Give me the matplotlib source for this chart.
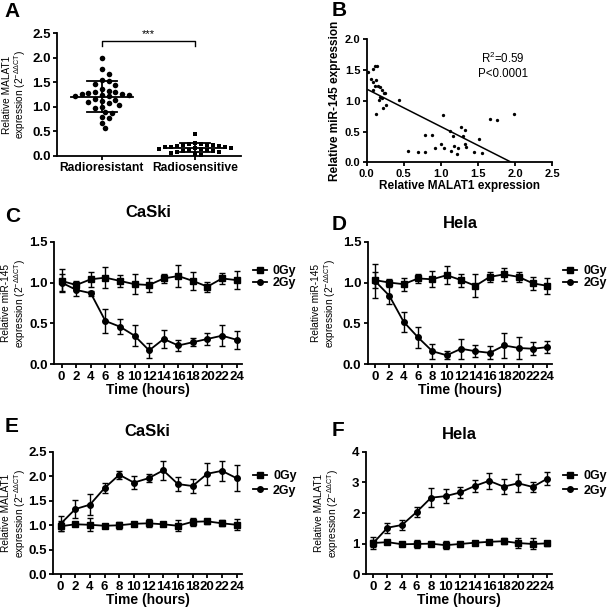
import numpy as np
import matplotlib
matplotlib.use('Agg')
import matplotlib.pyplot as plt

plt.rcParams['font.family'] = ['Liberation Sans', 'DejaVu Sans']
plt.rcParams['mathtext.fontset'] = 'custom'
plt.rcParams['mathtext.rm'] = 'Liberation Sans'
plt.rcParams['mathtext.it'] = 'Liberation Sans:italic'
plt.rcParams['mathtext.bf'] = 'Liberation Sans:bold'

# ---- panel A: MALAT1 in radioresistant / radiosensitive samples
groups = ['Radioresistant', 'Radiosensitive']
resistant = [2.00, 1.76, 1.67, 1.55, 1.52, 1.46, 1.45, 1.36, 1.33, 1.31, 1.30,
             1.28, 1.26, 1.25, 1.24, 1.23, 1.22, 1.21, 1.15, 1.14, 1.12, 1.10,
             1.08, 1.04, 1.00, 0.97, 0.90, 0.88, 0.80, 0.78, 0.67, 0.56]
sensitive = [0.45, 0.27, 0.25, 0.24, 0.23, 0.22, 0.22, 0.21, 0.20, 0.19, 0.19,
             0.18, 0.17, 0.16, 0.15, 0.14, 0.13, 0.12, 0.11, 0.10, 0.09, 0.08,
             0.07, 0.05, 0.03]

# ---- panel B: MALAT1 vs miR-145 correlation
malat1 = [0.02, 0.06, 0.08, 0.11, 0.14, 0.08, 0.12, 0.08, 0.11, 0.15, 0.18,
          0.21, 0.23, 0.25, 0.17, 0.20, 0.13, 0.22, 0.26, 0.18, 0.44, 1.03,
          1.66, 1.76, 1.98, 0.55, 0.69, 0.78, 0.78, 0.88, 0.92, 1.00, 1.04,
          1.12, 1.13, 1.16, 1.18, 1.21, 1.23, 1.27, 1.30, 1.32, 1.33, 1.34,
          1.51, 1.44, 1.55]
mir145 = [1.46, 1.35, 1.52, 1.56, 1.56, 1.31, 1.34, 1.18, 1.24, 1.24, 1.23,
          1.18, 1.13, 1.13, 1.01, 1.05, 0.79, 0.88, 0.93, 1.06, 1.01, 0.76,
          0.70, 0.68, 0.78, 0.19, 0.17, 0.16, 0.44, 0.45, 0.24, 0.29, 0.24,
          0.51, 0.19, 0.43, 0.26, 0.14, 0.24, 0.57, 0.42, 0.52, 0.30, 0.25,
          0.38, 0.16, 0.15]

# ---- panels C-F: time courses
hours = [0, 2, 4, 6, 8, 10, 12, 14, 16, 18, 20, 22, 24]

c_0gy = [1.02, 0.97, 1.04, 1.06, 1.02, 0.98, 0.97, 1.05, 1.08, 1.02, 0.95, 1.05, 1.03]
c_0gy_err = [0.14, 0.05, 0.09, 0.13, 0.07, 0.12, 0.08, 0.06, 0.13, 0.11, 0.06, 0.07, 0.11]
c_2gy = [1.00, 0.91, 0.87, 0.53, 0.46, 0.35, 0.17, 0.31, 0.23, 0.27, 0.31, 0.35, 0.30]
c_2gy_err = [0.10, 0.07, 0.03, 0.15, 0.09, 0.13, 0.09, 0.11, 0.07, 0.05, 0.07, 0.13, 0.11]

d_0gy = [1.03, 1.00, 0.98, 1.05, 1.04, 1.09, 1.03, 0.96, 1.07, 1.10, 1.07, 0.99, 0.96]
d_0gy_err = [0.10, 0.04, 0.08, 0.06, 0.10, 0.11, 0.08, 0.14, 0.06, 0.08, 0.06, 0.08, 0.10]
d_2gy = [1.02, 0.84, 0.52, 0.33, 0.16, 0.11, 0.19, 0.16, 0.14, 0.23, 0.20, 0.19, 0.21]
d_2gy_err = [0.21, 0.10, 0.12, 0.13, 0.09, 0.05, 0.12, 0.07, 0.08, 0.15, 0.13, 0.08, 0.07]

e_0gy = [0.98, 1.02, 1.01, 0.99, 1.00, 1.03, 1.04, 1.02, 0.99, 1.07, 1.08, 1.04, 1.01]
e_0gy_err = [0.10, 0.04, 0.13, 0.03, 0.07, 0.03, 0.08, 0.04, 0.11, 0.08, 0.05, 0.06, 0.11]
e_2gy = [1.03, 1.33, 1.42, 1.76, 2.03, 1.87, 1.96, 2.12, 1.84, 1.80, 2.05, 2.11, 1.96]
e_2gy_err = [0.15, 0.18, 0.21, 0.10, 0.08, 0.13, 0.08, 0.20, 0.15, 0.14, 0.22, 0.20, 0.27]

f_0gy = [1.02, 1.05, 0.98, 0.99, 1.00, 0.95, 0.99, 1.03, 1.06, 1.08, 1.02, 0.99, 1.01]
f_0gy_err = [0.20, 0.07, 0.05, 0.12, 0.05, 0.13, 0.06, 0.05, 0.07, 0.09, 0.17, 0.18, 0.07]
f_2gy = [1.01, 1.52, 1.61, 2.03, 2.50, 2.55, 2.67, 2.88, 3.05, 2.86, 2.97, 2.85, 3.12]
f_2gy_err = [0.12, 0.17, 0.15, 0.17, 0.32, 0.22, 0.17, 0.20, 0.27, 0.25, 0.30, 0.15, 0.22]

ylab_mir = 'Relative miR-145\nexpression (2$^{\\mathregular{-ΔΔCT}}$)'
ylab_malat = 'Relative MALAT1\nexpression (2$^{\\mathregular{-ΔΔCT}}$)'

TICK_FS = 9.5
LW = 1.3
YLAB_FS = 7.3


def style(ax, fs=TICK_FS):
    for s in ['top', 'right']:
        ax.spines[s].set_visible(False)
    for s in ['left', 'bottom']:
        ax.spines[s].set_linewidth(LW)
    ax.tick_params(width=LW, length=3, labelsize=fs, pad=1.5)


def swarm(vals, px_x, px_y, d):
    # simple beeswarm: offsets in data units so markers don't overlap
    placed = []
    offs = []
    for v in vals:
        y = v * px_y
        k = 0
        while True:
            step = (k + 1) // 2 * (1 if k % 2 else -1) * d * 0.6
            ok = all((step - px) ** 2 + (y - py) ** 2 >= d * d for px, py in placed)
            if ok:
                break
            k += 1
        placed.append((step, y))
        offs.append(step / px_x)
    return np.array(offs)


def time_panel(ax, m0, e0, m2, e2, ylim, yticks, ylabels, ylabel, ylab_x, title, pad,
               leg_y, lsp):
    ax.errorbar(hours, m0, yerr=e0, fmt='none', ecolor='black', elinewidth=1.0,
                capsize=2.5, capthick=1.0)
    ax.errorbar(hours, m2, yerr=e2, fmt='none', ecolor='black', elinewidth=1.0,
                capsize=2.5, capthick=1.0)
    ax.plot(hours, m0, '-s', color='black', ms=4, lw=LW, label='0Gy')
    ax.plot(hours, m2, '-o', color='black', ms=4, lw=LW, label='2Gy')
    ax.set_xlim(-1.0, 24.7)
    ax.set_ylim(*ylim)
    ax.set_xticks(hours, [str(h) for h in hours], fontweight='bold')
    ax.set_yticks(yticks, ylabels, fontweight='bold')
    style(ax)
    ax.set_xlabel('Time (hours)', fontsize=10, fontweight='bold', labelpad=0.5)
    ax.set_ylabel(ylabel, fontsize=YLAB_FS, linespacing=1.1)
    ax.yaxis.set_label_coords(ylab_x, 0.5)
    ax.set_title(title, fontsize=12, fontweight='bold', pad=pad)
    leg = ax.legend(loc='upper left', bbox_to_anchor=(1.06, leg_y), frameon=False,
                    handlelength=1.1, handletextpad=0.5, labelspacing=lsp,
                    borderpad=0, borderaxespad=0, prop={'weight': 'bold', 'size': 9})
    return leg


fig = plt.figure(figsize=(6.09, 6.10), dpi=100)

# ---------------- A
axA = fig.add_axes([0.0936, 0.7443, 0.3021, 0.2016])
px_x = 0.3021 * 609 / (1.49 + 0.48)
px_y = 0.2016 * 610 / 2.5
res_sorted = sorted(resistant, reverse=True)
sen_sorted = sorted(sensitive, reverse=True)
axA.plot(0 + swarm(res_sorted, px_x, px_y, 5.6), res_sorted, 'o', color='black',
         ms=4.0, mew=0, clip_on=False)
axA.plot(1 + swarm(sen_sorted, px_x, px_y, 5.0), sen_sorted, 's', color='black',
         ms=3.5, mew=0, clip_on=False)
for i, vals in enumerate([resistant, sensitive]):
    m = np.mean(vals)
    sd = np.std(vals, ddof=1)
    axA.plot([i - 0.33, i + 0.33], [m, m], color='black', lw=LW)
    axA.plot([i - 0.16, i + 0.16], [m - sd, m - sd], color='black', lw=LW)
    axA.plot([i - 0.16, i + 0.16], [m + sd, m + sd], color='black', lw=LW)
    axA.plot([i, i], [m - sd, m + sd], color='black', lw=LW)
axA.plot([0, 0, 1, 1], [2.23, 2.33, 2.33, 2.23], color='black', lw=1.0)
axA.text(0.5, 2.37, '***', ha='center', va='bottom', fontsize=8)
axA.set_xlim(-0.48, 1.49)
axA.set_ylim(0, 2.5)
axA.set_xticks([0, 1], groups, fontweight='bold')
axA.set_yticks([0, 0.5, 1.0, 1.5, 2.0, 2.5], ['0.0', '0.5', '1.0', '1.5', '2.0', '2.5'],
               fontweight='bold')
style(axA)
axA.tick_params(axis='x', labelsize=8.7)
axA.set_ylabel(ylab_malat, fontsize=YLAB_FS, linespacing=1.1)
axA.yaxis.set_label_coords(-0.155, 0.5)

# ---------------- B
axB = fig.add_axes([0.6021, 0.7339, 0.3048, 0.2021])
axB.plot(malat1, mir145, 'o', color='black', ms=2.4, mew=0)
slope, icpt = np.polyfit(malat1, mir145, 1)
xx = np.array([min(malat1), max(malat1)])
axB.plot(xx, slope * xx + icpt, color='black', lw=1.1)
axB.set_xlim(0, 2.5)
axB.set_ylim(0, 2.0)
axB.set_xticks([0, 0.5, 1.0, 1.5, 2.0, 2.5], ['0.0', '0.5', '1.0', '1.5', '2.0', '2.5'],
               fontweight='bold')
axB.set_yticks([0, 0.5, 1.0, 1.5, 2.0], ['0.0', '0.5', '1.0', '1.5', '2.0'],
               fontweight='bold')
style(axB, fs=8)
axB.set_xlabel('Relative MALAT1 expression', fontsize=8.5, fontweight='bold', labelpad=1)
axB.set_ylabel('Relative miR-145 expression', fontsize=8.5, fontweight='bold', labelpad=3)
axB.text(1.83, 1.57, 'R$^{2}$=0.59\nP<0.0001', ha='center', va='center', fontsize=8.3,
         linespacing=1.15)

# ---------------- C-F
axC = fig.add_axes([0.0892, 0.4028, 0.3077, 0.2010])
time_panel(axC, c_0gy, c_0gy_err, c_2gy, c_2gy_err, (0, 1.5), [0, 0.5, 1.0, 1.5],
           ['0.0', '0.5', '1.0', '1.5'], ylab_mir, -0.14, 'CaSki', 18, 0.81, 0.0)
axD = fig.add_axes([0.6038, 0.4028, 0.3031, 0.2010])
time_panel(axD, d_0gy, d_0gy_err, d_2gy, d_2gy_err, (0, 1.5), [0, 0.5, 1.0, 1.5],
           ['0.0', '0.5', '1.0', '1.5'], ylab_mir, -0.16, 'Hela', 10, 0.81, 0.0)
axE = fig.add_axes([0.0875, 0.0585, 0.3094, 0.2010])
time_panel(axE, e_0gy, e_0gy_err, e_2gy, e_2gy_err, (0, 2.5), [0, 0.5, 1.0, 1.5, 2.0, 2.5],
           ['0.0', '0.5', '1.0', '1.5', '2.0', '2.5'], ylab_malat, -0.135, 'CaSki', 11,
           0.85, 0.2)
axF = fig.add_axes([0.6005, 0.0585, 0.3064, 0.2010])
time_panel(axF, f_0gy, f_0gy_err, f_2gy, f_2gy_err, (0, 4), [0, 1, 2, 3, 4],
           ['0', '1', '2', '3', '4'], ylab_malat, -0.135, 'Hela', 9, 0.85, 0.2)

# panel letters
for lab, x, y in [('A', 0.008, 0.997), ('B', 0.545, 0.999), ('C', 0.008, 0.66),
                  ('D', 0.545, 0.648), ('E', 0.008, 0.316), ('F', 0.545, 0.31)]:
    fig.text(x, y, lab, fontsize=15, fontweight='bold', ha='left', va='top')

fig.savefig('out.png', dpi=100)
